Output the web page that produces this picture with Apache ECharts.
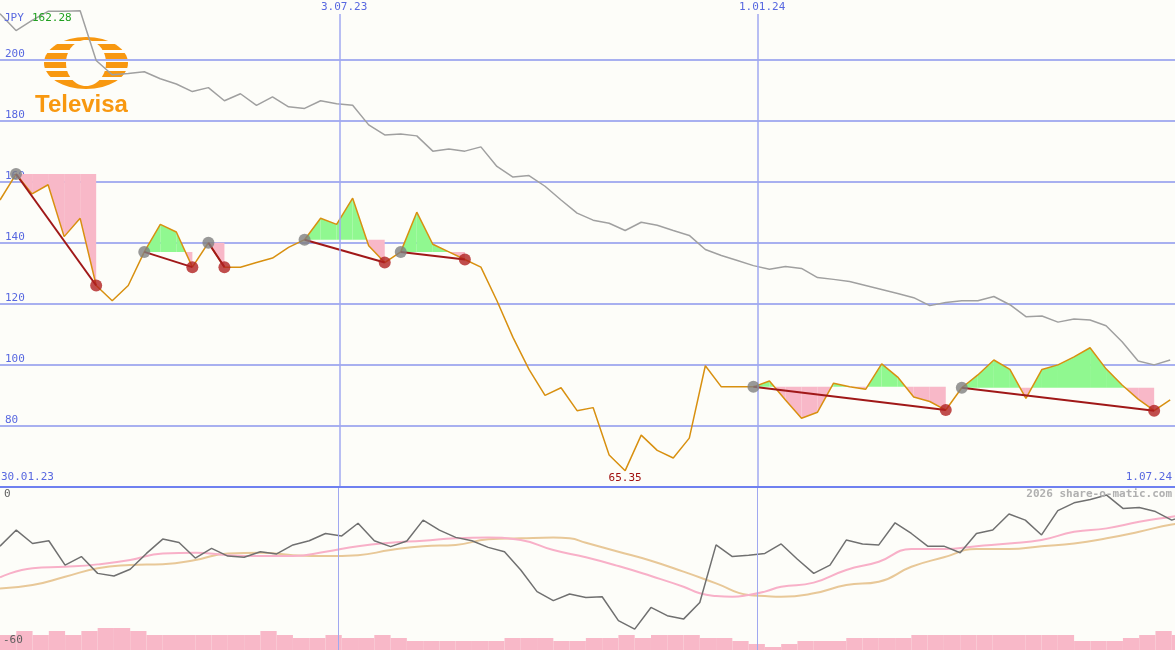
<!DOCTYPE html>
<html><head><meta charset="utf-8">
<script src="https://cdn.jsdelivr.net/npm/echarts@6/dist/echarts.min.js"></script>
<style>html,body{margin:0;padding:0;background:#fdfdf9}#c{width:1175px;height:650px}</style>
</head><body><div id="c"></div>
<script>
const price=[154,162.5,156,159,142,148,126,121,126,137,146,143.5,132,140,132,132,133.5,135,138.5,141,148,146,154.6,139,133.5,137,150,139.5,137,134.5,132,121,109,98.5,90,92.5,85,86,70.5,65.35,77,72,69.5,76,99.7,92.8,92.8,92.8,94.7,88.5,82.5,84.5,94,92.8,92,100.3,96,89.5,88,85.2,92.5,96.7,101.6,98.5,89,98.5,100,102.6,105.6,98.7,93.4,88.8,85,88.5];
const bench=[215,209.5,212.8,215.8,215.8,216,199.7,195,195.4,196,193.7,192,189.5,190.8,186.5,188.8,185,187.8,184.5,184,186.5,185.5,185,178.6,175.3,175.6,175,170,170.7,170,171.4,165,161.5,162,158.5,154,149.7,147.4,146.4,144,146.7,145.7,144,142.4,137.8,135.8,134.2,132.5,131.3,132.2,131.6,128.6,128,127.3,126,124.7,123.4,122,119.4,120.4,121,121,122.4,119.7,115.8,116,114,115,114.7,112.8,107.6,101.3,100,101.6];
const segments=[[1,6],[9,12],[13,14],[19,24],[25,29],[47,59],[60,72]];
const osc=[-21.0,-14.4,-19.9,-18.8,-28.8,-25.3,-32.2,-33.3,-30.5,-24.0,-18.1,-19.5,-25.9,-21.9,-25.1,-25.6,-23.3,-24.2,-20.5,-18.8,-15.8,-16.8,-11.6,-18.8,-21.2,-18.9,-10.3,-14.4,-17.4,-18.8,-21.5,-23.3,-30.8,-39.7,-43.4,-40.7,-42.1,-41.8,-51.6,-55.1,-46.2,-49.6,-51.0,-44.2,-20.5,-25.3,-24.7,-24.0,-20.1,-26.4,-32.2,-28.8,-18.5,-20.1,-20.5,-11.4,-15.8,-21.0,-21.0,-23.7,-15.8,-14.4,-7.8,-10.3,-16.4,-6.4,-3.2,-1.8,0,-5.5,-5.1,-6.8,-10.3,-8.2];
const maFast=[[0,-33.8],[2,-30.1],[4,-29.5],[6,-28.5],[8,-26.7],[10,-24.0],[12,-23.7],[14,-24.7],[16,-25.1],[18,-25.1],[20,-23.3],[22,-21.0],[24,-19.6],[26,-18.8],[28,-17.8],[30,-17.5],[32,-18.5],[34,-22.6],[36,-25.6],[38,-29.2],[40,-33.3],[42,-37.7],[43,-40.4],[44,-41.5],[45,-41.8],[46,-41.1],[47,-39.7],[48,-37.7],[50,-36.0],[52,-30.8],[54,-27.4],[56,-22.2],[58,-22.2],[60,-21.0],[62,-19.9],[64,-18.5],[66,-15.1],[68,-13.7],[70,-11.0],[72,-8.9],[73,-7.9]];
const maSlow=[[0,-38.4],[2,-37.0],[4,-33.6],[6,-30.1],[8,-28.8],[10,-28.4],[12,-26.7],[14,-24.0],[16,-23.7],[18,-24.7],[20,-25.1],[22,-24.7],[24,-22.6],[26,-21.0],[28,-20.5],[30,-18.2],[32,-17.8],[34,-17.5],[35,-17.8],[36,-19.6],[38,-23.3],[40,-27.0],[42,-31.5],[44,-36.3],[46,-41.1],[47,-41.5],[48,-41.8],[50,-40.4],[52,-37.0],[54,-35.6],[56,-29.5],[58,-25.6],[60,-22.2],[62,-22.2],[64,-21.0],[66,-19.9],[68,-17.8],[70,-15.1],[72,-12.1],[73,-11.6]];
const volume=[15,19,15,19,15,19,22,22,19,15,15,15,15,15,15,15,19,15,12,12,15,12,12,15,12,9,9,9,9,9,9,12,12,12,9,9,12,12,15,12,15,15,15,12,12,9,6,3,6,9,9,9,12,12,12,12,15,15,15,15,15,15,15,15,15,15,9,9,9,12,15,19,15];
const yTicks=[80,100,120,140,160,180,200];

const fills=[];
segments.forEach(([s,e])=>{const lv=price[s];for(let i=s;i<e;i++)fills.push([i,price[i],price[i+1],lv]);});
const links=[];
segments.forEach(([s,e])=>{links.push([[s,price[s]],[e,price[e]]]);});
const startPts=segments.map(([s])=>[s,price[s]]);
const endPts=segments.map(([,e])=>[e,price[e]]);
const GREEN='#90f890',PINK='#f8b8c8';
function renderFill(params,api){
  const i=api.value(0),a=api.value(1),b=api.value(2),lv=api.value(3);
  const polys=[];
  const mk=(x0,y0,x1,y1)=>{const pts=[api.coord([x0,lv]),api.coord([x0,y0]),api.coord([x1,y1]),api.coord([x1,lv])];
    const up=(y0+y1)/2>=lv;polys.push({type:'polygon',shape:{points:pts},style:{fill:up?GREEN:PINK}});};
  if((a-lv)*(b-lv)<0){const t=(lv-a)/(b-a);mk(i,a,i+t,lv);mk(i+t,lv,i+1,b);}else mk(i,a,i+1,b);
  return {type:'group',children:polys};
}
const series=[
  {type:'custom',xAxisIndex:0,yAxisIndex:0,renderItem:renderFill,data:fills,silent:true,z:1},
  {type:'line',xAxisIndex:0,yAxisIndex:0,data:bench.map((v,i)=>[i,v]),symbol:'none',lineStyle:{color:'#a0a0a0',width:1.5},z:2},
  {type:'line',xAxisIndex:0,yAxisIndex:0,data:price.map((v,i)=>[i,v]),symbol:'none',lineStyle:{color:'#d89010',width:1.5},z:3,
   markPoint:{symbol:'circle',symbolSize:0,data:[{coord:[39,65.35],value:'65.35'}],label:{show:true,position:'bottom',distance:2,color:'#a01010',fontSize:11,fontFamily:'DejaVu Sans Mono',formatter:'65.35'}},
   markLine:{silent:true,symbol:'none',label:{show:false},lineStyle:{color:'#a0a8f0',width:1.5,type:'solid'},data:[{xAxis:21.2},{xAxis:47.3}]}},
  ...links.map(d=>({type:'line',xAxisIndex:0,yAxisIndex:0,data:d,symbol:'none',lineStyle:{color:'#a01818',width:2},z:4})),
  {type:'scatter',xAxisIndex:0,yAxisIndex:0,data:startPts,symbolSize:12,itemStyle:{color:'#808080'},z:5},
  {type:'scatter',xAxisIndex:0,yAxisIndex:0,data:endPts,symbolSize:12,itemStyle:{color:'#b02020'},z:5},
  {type:'bar',xAxisIndex:1,yAxisIndex:2,data:volume.map((v,i)=>[i+0.5,v]),barWidth:'100%',barCategoryGap:0,itemStyle:{color:'#f8b8c8'},z:1},
  {type:'line',xAxisIndex:1,yAxisIndex:1,data:maSlow,symbol:'none',smooth:true,lineStyle:{color:'#e8c898',width:2},z:2},
  {type:'line',xAxisIndex:1,yAxisIndex:1,data:maFast,symbol:'none',smooth:true,lineStyle:{color:'#f8b0c8',width:2},z:3},
  {type:'line',xAxisIndex:1,yAxisIndex:1,data:osc.map((v,i)=>[i,v]),symbol:'none',lineStyle:{color:'#707070',width:1.5},z:4,
   markLine:{silent:true,symbol:'none',label:{show:false},lineStyle:{color:'#a0a8f0',width:1,type:'solid'},data:[{xAxis:20.8},{xAxis:46.5}]}}
];
const chart=echarts.init(document.getElementById('c'));
chart.setOption({
  animation:false,backgroundColor:'#fdfdf9',
  grid:[{left:0,right:0,top:0,height:487},{left:0,right:0,top:488,bottom:0}],
  xAxis:[{type:'value',gridIndex:0,min:0,max:73.3,show:false,splitLine:{show:false}},
         {type:'value',gridIndex:1,min:0,max:72.2,show:false,splitLine:{show:false}}],
  yAxis:[{type:'value',gridIndex:0,min:60,max:219.5,interval:20,axisLine:{show:false},axisTick:{show:false},
          splitLine:{show:true,lineStyle:{color:'#a8b0f0',width:2}},
          axisLabel:{inside:true,color:'#5868e0',fontSize:11,fontFamily:'DejaVu Sans Mono',verticalAlign:'bottom',margin:5,
          formatter:v=>yTicks.includes(v)?String(v):''}},
         {type:'value',gridIndex:1,min:-63.7,max:2.9,show:false,splitLine:{show:false}},
         {type:'value',gridIndex:1,min:0,max:162,show:false,splitLine:{show:false}}],
  graphic:[
    {type:'rect',shape:{x:0,y:486,width:1175,height:2},style:{fill:'#6f80f0'},z:10},
    {type:'rect',shape:{x:0,y:0,width:1175,height:2},style:{fill:'#fdfdf9'},z:1},
    {type:'rect',shape:{x:335,y:0,width:10,height:14},style:{fill:'#fdfdf9'},z:9},
    {type:'rect',shape:{x:752,y:0,width:10,height:14},style:{fill:'#fdfdf9'},z:9},
    {type:'text',left:4,top:13,style:{text:'JPY',fill:'#5868e0',font:'11px DejaVu Sans Mono'},z:10},
    {type:'text',left:32,top:13,style:{text:'162.28',fill:'#20a020',font:'11px DejaVu Sans Mono'},z:10},
    {type:'text',left:321,top:2,style:{text:'3.07.23',fill:'#5868e0',font:'11px DejaVu Sans Mono'},z:10},
    {type:'text',left:739,top:2,style:{text:'1.01.24',fill:'#5868e0',font:'11px DejaVu Sans Mono'},z:10},
    {type:'text',left:1,top:472,style:{text:'30.01.23',fill:'#5868e0',font:'11px DejaVu Sans Mono'},z:10},
    {type:'text',right:3,top:472,style:{text:'1.07.24',fill:'#5868e0',font:'11px DejaVu Sans Mono'},z:10},
    {type:'text',right:3,top:489,style:{text:'2026 share-o-matic.com',fill:'#b0b0b0',font:'bold 11px DejaVu Sans Mono'},z:10},
    {type:'text',left:4,top:489,style:{text:'0',fill:'#606060',font:'11px DejaVu Sans Mono'},z:10},
    {type:'text',left:3,top:635,style:{text:'-60',fill:'#606060',font:'11px DejaVu Sans Mono'},z:10},
    {type:'group',x:35,y:36,z:20,children:[
      {type:'rect',shape:{x:0,y:20,width:100,height:14},style:{fill:'#fdfdf9'}},
      {type:'ellipse',shape:{cx:51,cy:27,rx:42,ry:26},style:{fill:'#f89810'}},
      {type:'ellipse',shape:{cx:51,cy:27,rx:20,ry:23},style:{fill:'#fdfdf9'}},
      {type:'rect',shape:{x:5,y:5,width:92,height:3},style:{fill:'#fdfdf9'}},
      {type:'rect',shape:{x:5,y:14,width:92,height:3},style:{fill:'#fdfdf9'}},
      {type:'rect',shape:{x:5,y:23,width:92,height:3},style:{fill:'#fdfdf9'}},
      {type:'rect',shape:{x:5,y:32,width:92,height:3},style:{fill:'#fdfdf9'}},
      {type:'rect',shape:{x:5,y:41,width:92,height:3},style:{fill:'#fdfdf9'}},
      {type:'text',x:0,y:57,style:{text:'Televisa',fill:'#f89810',font:'bold 24px Liberation Sans'}}
    ]}
  ],
  series
});
</script></body></html>
